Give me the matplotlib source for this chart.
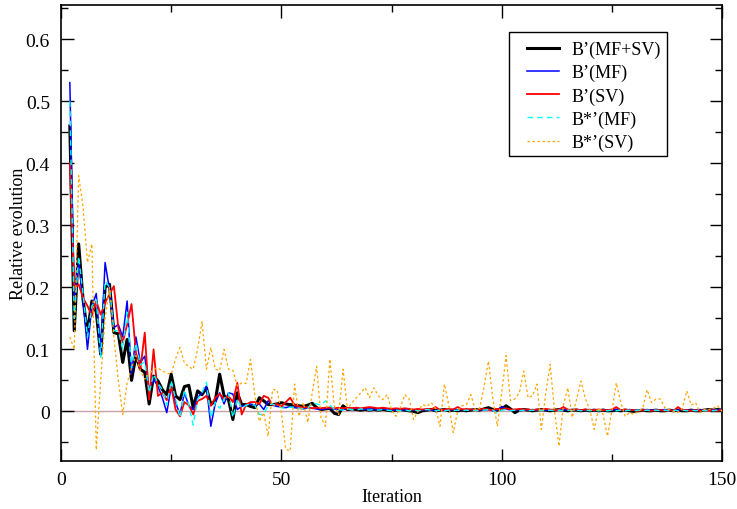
import numpy as np
import matplotlib
matplotlib.use('Agg')
from matplotlib import pyplot as plt
from matplotlib.patches import Rectangle

# iterations 2..150
iterations = np.arange(2, 151)

# B'(MF+SV)
b_mfsv = [0.46, 0.13, 0.27, 0.18, 0.127, 0.178, 0.16, 0.092, 0.20, 0.205,
          0.127, 0.125, 0.079, 0.116, 0.05, 0.09, 0.068, 0.063, 0.012, 0.057,
          0.049, 0.035, 0.027, 0.06, 0.025, 0.019, 0.04, 0.042, 0.006, 0.033,
          0.027, 0.038, 0.011, 0.017, 0.06, 0.025, 0.019, -0.013, 0.03, 0.011,
          0.011, 0.008, 0.006, 0.022,
          0.017, 0.011, 0.011, 0.012, 0.014, 0.012, 0.011, 0.010, 0.009, 0.008, 0.010, 0.013, 0.006, 0.003, 0.004,
          0.005, -0.003, -0.005, 0.009, 0.003, 0.004, 0.003, 0.002, 0.003, 0.002, 0.003, 0.002, 0.003, 0.002, 0.001,
          0.002, 0.003, 0.002, 0.001, 0.000, -0.002, 0.001, 0.002, 0.003, 0.001, 0.002, 0.003, 0.001, 0.002, 0.001,
          0.002, 0.001, 0.002, 0.003, 0.002, 0.004, 0.006, 0.003, 0.002, 0.004, 0.009, 0.004, -0.002, 0.002, 0.003,
          0.002, 0.001, 0.002, 0.003, 0.002, 0.001, 0.002, 0.003, 0.002, 0.001, 0.002, 0.002, 0.001, 0.002, 0.001,
          0.002, 0.001, 0.002, 0.001, 0.001, 0.002, 0.001, 0.002, 0.001, 0.000, 0.001, 0.002, 0.001, 0.001, 0.002,
          0.001, 0.001, 0.002, 0.001, 0.002, 0.001, 0.001, 0.002, 0.001, 0.001, 0.002, 0.003, 0.002, 0.003, 0.002]

# B'(MF)
b_mf = [0.53, 0.18, 0.24, 0.18, 0.10, 0.17, 0.19, 0.092, 0.24, 0.196,
        0.135, 0.14, 0.12, 0.178, 0.06, 0.12, 0.079, 0.089, 0.033, 0.052,
        0.04, 0.022, -0.002, 0.04, 0.014, -0.005, 0.03, 0.009, 0.003, 0.022,
        0.03, 0.041, -0.024, 0.013, 0.03, 0.012, 0.03, 0.028, 0.003, 0.008,
        0.011, 0.012, 0.01, 0.012,
        0.003, 0.017, 0.010, 0.008, 0.007, 0.006, 0.008, 0.006, 0.005, 0.004, 0.006, 0.005, 0.004, 0.003, 0.004,
        0.005, 0.004, 0.003, 0.004, 0.003, 0.004, 0.005, 0.004, 0.003, 0.004, 0.003, 0.003, 0.004, 0.003, 0.002,
        0.003, 0.002, 0.003, 0.004, 0.002, 0.003, 0.002, 0.003, 0.002, 0.001, 0.002, 0.003, 0.002, 0.003, 0.002,
        0.003, 0.002, 0.003, 0.002, 0.003, 0.002, 0.003, 0.001, 0.002, 0.008, 0.004, 0.002, 0.003, 0.002, 0.003,
        0.002, 0.003, 0.002, 0.003, 0.002, 0.002, 0.003, 0.002, 0.003, 0.002, 0.002, 0.003, 0.002, 0.002, 0.003,
        0.002, 0.002, 0.003, 0.002, 0.002, 0.003, 0.002, 0.002, 0.003, 0.002, 0.002, 0.002, 0.003, 0.002, 0.002,
        0.002, 0.003, 0.002, 0.002, 0.002, 0.003, 0.002, 0.002, 0.002, 0.003, 0.002, 0.002, 0.003, 0.002, 0.003]

# B'(SV)
b_sv = [0.40, 0.197, 0.205, 0.183, 0.17, 0.154, 0.178, 0.156, 0.175, 0.189,
        0.202, 0.135, 0.111, 0.14, 0.173, 0.095, 0.068, 0.127, 0.019, 0.1,
        0.025, 0.03, 0.018, 0.04, 0.003, -0.008, 0.015, 0.01, -0.005, 0.017,
        0.02, 0.025, 0.009, 0.022, 0.028, 0.02, 0.025, 0.015, 0.046, -0.005,
        0.011, 0.015, 0.015, 0.012,
        0.025, 0.022, 0.010, 0.012, 0.008, 0.015, 0.022, 0.010, 0.008, 0.006, 0.007, 0.005, 0.006, 0.005, 0.006,
        0.006, 0.005, 0.006, 0.005, 0.006, 0.005, 0.006, 0.005, 0.006, 0.007, 0.006, 0.005, 0.006, 0.005, 0.004,
        0.005, 0.004, 0.005, 0.004, 0.003, 0.004, 0.003, 0.004, 0.003, 0.007, 0.002, 0.003, 0.004, 0.003, 0.007,
        0.003, 0.004, 0.003, 0.002, 0.003, 0.004, 0.003, 0.002, 0.004, 0.003, 0.005, 0.003, 0.003, 0.004, 0.003,
        0.003, 0.002, 0.003, 0.003, 0.004, 0.003, 0.002, 0.003, 0.007, 0.003, 0.002, 0.003, 0.002, 0.003, 0.002,
        0.002, 0.003, 0.002, 0.002, 0.003, 0.007, 0.002, 0.003, 0.002, 0.002, 0.001, 0.002, 0.002, 0.001, 0.002,
        0.002, 0.001, 0.002, 0.001, 0.007, 0.002, 0.002, 0.001, 0.002, 0.001, 0.002, 0.001, 0.002, 0.001, 0.002]

# B*'(MF)
bs_mf = [0.50, 0.15, 0.25, 0.19, 0.12, 0.17, 0.18, 0.087, 0.21, 0.20,
         0.13, 0.13, 0.10, 0.16, 0.07, 0.11, 0.075, 0.08, 0.03, 0.06,
         0.045, 0.035, 0.01, 0.05, 0.02, -0.01, 0.035, 0.01, -0.022, 0.02,
         0.03, 0.047, -0.01, 0.015, 0.005, 0.02, 0.03, -0.01, 0.02, 0.005,
         0.01, 0.012, 0.01, -0.005,
         -0.005, 0.010, 0.012, 0.008, 0.006, 0.005, 0.007, 0.006, 0.005, 0.004, 0.005, 0.014, 0.012, 0.010, 0.017,
         0.010, 0.004, 0.003, 0.002, 0.004, 0.003, 0.002, 0.004, 0.003, 0.002, 0.003, 0.002, 0.003, 0.002, 0.001,
         0.002, 0.001, 0.002, 0.001, 0.002, 0.001, 0.002, 0.003, 0.002, 0.001, 0.002, 0.001, 0.002, 0.001, 0.002,
         0.001, 0.002, 0.001, 0.002, 0.001, 0.002, 0.003, 0.002, -0.003, 0.002, 0.003, 0.001, 0.002, 0.001, 0.002,
         0.001, 0.002, 0.001, 0.002, 0.001, 0.002, 0.001, 0.002, 0.001, 0.002, 0.001, 0.002, 0.001, 0.002, 0.001,
         0.002, 0.001, 0.002, 0.001, 0.002, 0.001, 0.002, 0.001, 0.002, 0.001, 0.002, 0.001, 0.002, 0.001, 0.002,
         0.001, 0.002, 0.001, 0.002, 0.001, 0.002, 0.001, 0.002, 0.001, 0.002, 0.001, 0.002, 0.001, 0.002, 0.001]

# B*'(SV)
bs_sv = [0.12, 0.10, 0.38, 0.33, 0.24, 0.27, -0.062, 0.05, 0.15, 0.20,
         0.12, 0.05, -0.005, 0.046, 0.07, 0.09, 0.065, 0.052, 0.06, 0.068,
         0.07, 0.065, 0.062, 0.06, 0.085, 0.103, 0.078, 0.072, 0.068, 0.10,
         0.145, 0.068, 0.103, 0.068, 0.066, 0.10, 0.068, 0.066, 0.041, 0.046,
         0.045, 0.084, 0.025, -0.016,
         -0.002, -0.04, 0.035, 0.035, -0.002, -0.061, -0.064, 0.044, -0.008, 0.014, -0.018, 0.03, 0.073, -0.01, -0.024,
         0.084, 0.009, -0.005, 0.068, 0.003, 0.014, 0.022, 0.03, 0.038, 0.022, 0.038, 0.025, 0.019, 0.027, 0.003,
         -0.008, 0.006, 0.027, 0.02, -0.013, 0.0, 0.011, 0.008, 0.014, 0.005, -0.024, 0.044, 0.01, -0.034, 0.0,
         0.009, 0.011, 0.027, 0.003, 0.005, 0.04, 0.081, 0.02, -0.024, 0.03, 0.09, 0.017, 0.02, 0.03, 0.065,
         0.022, 0.025, 0.044, -0.029, 0.03, 0.076, 0.0, -0.056, 0.01, 0.038, -0.01, 0.02, 0.049, 0.02, 0.003,
         -0.029, 0.006, -0.005, -0.04, 0.0, 0.046, 0.015, -0.008, -0.002, -0.005, 0.0, 0.005, 0.035, 0.014, 0.02,
         0.02, 0.006, 0.003, 0.0, -0.002, 0.005, 0.033, 0.01, 0.014, -0.002, 0.003, 0.003, 0.005, 0.009, 0.0]

labels = ['B\u2019(MF+SV)', 'B\u2019(MF)', 'B\u2019(SV)', 'B*\u2019(MF)', 'B*\u2019(SV)']

plt.rcParams['font.family'] = ['Liberation Serif', 'DejaVu Serif']

fig = plt.figure(figsize=(7.37, 5.10), dpi=100)
ax = fig.add_axes([0.0828, 0.0941, 0.8969, 0.8939])

# zero reference line
ax.axhline(0, color='#c9a3a3', lw=1.0, zorder=1)

ax.plot(iterations, b_mfsv, color='black', lw=2.2, label=labels[0], zorder=2)
ax.plot(iterations, b_mf, color='#0000ff', lw=1.1, label=labels[1], zorder=3)
ax.plot(iterations, b_sv, color='#ff0000', lw=1.3, label=labels[2], zorder=4)
ax.plot(iterations, bs_mf, color='#00ffff', lw=1.0, dashes=(4, 3), label=labels[3], zorder=5)
ax.plot(iterations, bs_sv, color='#ffa500', lw=0.9, dashes=(2, 2), label=labels[4], zorder=6)

ax.set_xlim(0, 150)
ax.set_ylim(-0.08, 0.655)
ax.set_xticks([0, 50, 100, 150])
ax.set_xticks([25, 75, 125], minor=True)
ax.set_yticks([0, 0.1, 0.2, 0.3, 0.4, 0.5, 0.6])
ax.set_yticklabels(['0', '0.1', '0.2', '0.3', '0.4', '0.5', '0.6'])
ax.set_yticks(np.arange(-0.05, 0.66, 0.1), minor=True)

ax.tick_params(which='both', direction='in', top=True, right=True, width=1.0, labelsize=14)
ax.tick_params(which='major', length=9)
ax.tick_params(which='minor', length=5)
ax.tick_params(axis='x', pad=7)
ax.tick_params(axis='y', pad=8)
for s in ax.spines.values():
    s.set_linewidth(1.2)

ax.set_xlabel('Iteration', fontsize=13, labelpad=0)
ax.set_ylabel('Relative evolution', fontsize=13, labelpad=-1)

# legend without its own frame, box drawn separately (grace-like padding)
leg = ax.legend(loc='upper left', bbox_to_anchor=(0.705, 0.922), borderaxespad=0,
                fontsize=13, handlelength=1.75, handletextpad=0.7, labelspacing=0.33,
                borderpad=0, frameon=False)
leg.set_zorder(11)
box = Rectangle((0.678, 0.669), 0.239, 0.272, transform=ax.transAxes,
                facecolor='white', edgecolor='black', lw=1.0, zorder=10)
ax.add_patch(box)

plt.savefig('out.png', dpi=100)
